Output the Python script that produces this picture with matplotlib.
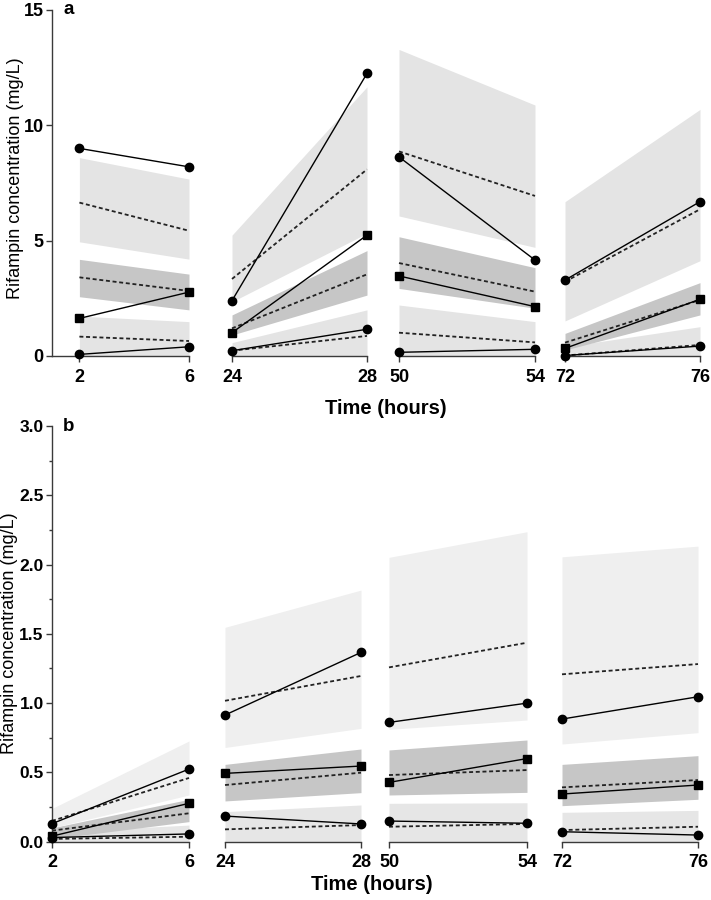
import matplotlib
matplotlib.use("Agg")
import matplotlib.pyplot as plt
from matplotlib.ticker import MultipleLocator
import numpy as np

plt.rcParams['font.family'] = ['Liberation Sans', 'DejaVu Sans']

# sampling windows (hours)
seg_times = [(2, 6), (24, 28), (50, 54), (72, 76)]

# ---- panel a (mg/L) ----
a_obs_high = [[9.00, 8.20], [2.40, 12.25], [8.63, 4.16], [3.29, 6.69]]
a_obs_mid = [[1.63, 2.77], [1.01, 5.24], [3.47, 2.14], [0.33, 2.46]]
a_obs_low = [[0.07, 0.40], [0.23, 1.16], [0.16, 0.29], [0.02, 0.43]]
a_pred_high = [[6.65, 5.43], [3.34, 8.09], [8.87, 6.94], [3.22, 6.36]]
a_pred_mid = [[3.41, 2.82], [1.20, 3.54], [4.03, 2.79], [0.58, 2.43]]
a_pred_low = [[0.84, 0.65], [0.23, 0.87], [1.01, 0.59], [0.02, 0.48]]
a_pi_high_lo = [[4.95, 4.20], [2.35, 5.32], [6.07, 4.71], [1.52, 4.13]]
a_pi_high_hi = [[8.60, 7.67], [5.24, 11.67], [13.29, 10.88], [6.69, 10.69]]
a_pi_mid_lo = [[2.57, 2.00], [0.91, 2.64], [2.93, 2.07], [0.26, 1.78]]
a_pi_mid_hi = [[4.19, 3.55], [1.78, 4.57], [5.17, 3.83], [0.98, 3.18]]
a_pi_low_lo = [[0.0, 0.0], [0.0, 0.0], [0.0, 0.0], [0.0, 0.0]]
a_pi_low_hi = [[1.73, 1.49], [0.58, 2.00], [2.21, 1.49], [0.40, 1.27]]

# ---- panel b (mg/L) ----
b_obs_high = [[0.13, 0.524], [0.914, 1.366], [0.861, 1.00], [0.885, 1.046]]
b_obs_mid = [[0.04, 0.277], [0.493, 0.546], [0.428, 0.60], [0.344, 0.409]]
b_obs_low = [[0.03, 0.056], [0.185, 0.128], [0.149, 0.133], [0.072, 0.048]]
b_pred_high = [[0.15, 0.46], [1.017, 1.196], [1.258, 1.436], [1.208, 1.282]]
b_pred_mid = [[0.08, 0.205], [0.409, 0.498], [0.481, 0.517], [0.392, 0.445]]
b_pred_low = [[0.02, 0.036], [0.089, 0.12], [0.108, 0.128], [0.084, 0.108]]
b_pi_high_lo = [[0.10, 0.337], [0.68, 0.818], [0.811, 0.878], [0.705, 0.787]]
b_pi_high_hi = [[0.24, 0.727], [1.547, 1.816], [2.052, 2.237], [2.056, 2.133]]
b_pi_mid_lo = [[0.02, 0.145], [0.294, 0.354], [0.337, 0.356], [0.26, 0.306]]
b_pi_mid_hi = [[0.10, 0.306], [0.558, 0.669], [0.662, 0.734], [0.558, 0.621]]
b_pi_low_lo = [[0.0, 0.0], [0.0, 0.0], [0.0, 0.0], [0.0, 0.0]]
b_pi_low_hi = [[0.07, 0.12], [0.217, 0.265], [0.277, 0.281], [0.212, 0.226]]

W, H = 711, 900
fig = plt.figure(figsize=(W / 100, H / 100), dpi=100)

SPINE = '#3a3a3a'
DARK = '#c6c6c6'


def px_rect(x0, x1, ytop, ybot):
    return [x0 / W, 1 - ybot / H, (x1 - x0) / W, (ybot - ytop) / H]


def draw_panel(xpix, ytop, ybot, ylim, xlims, d, band_cols, yticks, ytick_labels, minor,
               letter, xlabel_pos, ylabel_pos, ytick_size):
    axes = []
    for i, (x0, x1) in enumerate(xpix):
        ax = fig.add_axes(px_rect(x0, x1, ytop, ybot))
        t = seg_times[i]
        bands = [(d['pi_low_lo'][i], d['pi_low_hi'][i], band_cols[2]),
                 (d['pi_mid_lo'][i], d['pi_mid_hi'][i], band_cols[1]),
                 (d['pi_high_lo'][i], d['pi_high_hi'][i], band_cols[0])]
        for lo, hi, c in bands:
            ax.fill_between(t, lo, hi, color=c, lw=0, zorder=1)
        for key in ['pred_low', 'pred_mid', 'pred_high']:
            ax.plot(t, d[key][i], color='#222222', lw=1.3, ls=(0, (2.2, 1.5)), zorder=2, clip_on=False)
        ax.plot(t, d['obs_high'][i], color='black', lw=1.0, marker='o', ms=6, zorder=4, clip_on=False)
        ax.plot(t, d['obs_mid'][i], color='black', lw=1.0, marker='s', ms=5.5, zorder=4, clip_on=False)
        ax.plot(t, d['obs_low'][i], color='black', lw=1.0, marker='o', ms=6, zorder=4, clip_on=False)

        ax.set_xlim(xlims[i])
        ax.set_ylim(ylim)
        ax.set_xticks(list(t))
        ax.set_xticklabels([str(v) for v in t], fontweight='bold', fontsize=13)
        for s in ['top', 'right']:
            ax.spines[s].set_visible(False)
        ax.spines['bottom'].set_color(SPINE)
        ax.spines['bottom'].set_linewidth(1.0)
        ax.tick_params(axis='x', direction='out', length=4, width=1.0, color=SPINE, pad=5)
        if i == 0:
            ax.spines['left'].set_color(SPINE)
            ax.spines['left'].set_linewidth(1.0)
            ax.set_yticks(yticks)
            ax.set_yticklabels(ytick_labels, fontweight='bold', fontsize=ytick_size)
            if minor:
                ax.yaxis.set_minor_locator(MultipleLocator(minor))
            ax.tick_params(axis='y', which='major', direction='out', length=4, width=1.0, color=SPINE, pad=2)
            ax.tick_params(axis='y', which='minor', direction='out', length=2.5, width=1.0, color=SPINE)
            ax.text((63 - x0) / (x1 - x0), 1.0, letter, transform=ax.transAxes, fontsize=13.5,
                    fontweight='bold', va='center', ha='left')
        else:
            ax.spines['left'].set_visible(False)
            ax.set_yticks([])
        ax.patch.set_alpha(0)
        axes.append(ax)
    fig.text(ylabel_pos[0] / W, 1 - ylabel_pos[1] / H, 'Rifampin concentration (mg/L)', fontsize=13,
             rotation=90, ha='center', va='center')
    fig.text(xlabel_pos[0] / W, 1 - xlabel_pos[1] / H, 'Time (hours)', fontsize=14.5,
             fontweight='bold', ha='center', va='center')
    return axes


data_a = dict(obs_high=a_obs_high, obs_mid=a_obs_mid, obs_low=a_obs_low,
              pred_high=a_pred_high, pred_mid=a_pred_mid, pred_low=a_pred_low,
              pi_high_lo=a_pi_high_lo, pi_high_hi=a_pi_high_hi,
              pi_mid_lo=a_pi_mid_lo, pi_mid_hi=a_pi_mid_hi,
              pi_low_lo=a_pi_low_lo, pi_low_hi=a_pi_low_hi)
data_b = dict(obs_high=b_obs_high, obs_mid=b_obs_mid, obs_low=b_obs_low,
              pred_high=b_pred_high, pred_mid=b_pred_mid, pred_low=b_pred_low,
              pi_high_lo=b_pi_high_lo, pi_high_hi=b_pi_high_hi,
              pi_mid_lo=b_pi_mid_lo, pi_mid_hi=b_pi_mid_hi,
              pi_low_lo=b_pi_low_lo, pi_low_hi=b_pi_low_hi)

draw_panel([(52, 189), (232, 367), (399, 535), (565, 700)], 10, 356, (0, 15),
           [(1, 6), (24, 28), (50, 54), (72, 76)], data_a,
           ['#e4e4e4', DARK, '#e4e4e4'], [0, 5, 10, 15], ['0', '5', '10', '15'], None,
           'a', (386, 409), (16, 178), 13)

draw_panel([(52, 189), (225, 361), (389, 527), (562, 698)], 426, 841.7, (0, 3),
           [(2, 6), (24, 28), (50, 54), (72, 76)], data_b,
           ['#efefef', DARK, '#e6e6e6'], [0, 0.5, 1.0, 1.5, 2.0, 2.5, 3.0],
           ['0.0', '0.5', '1.0', '1.5', '2.0', '2.5', '3.0'], 0.25,
           'b', (372, 885), (10, 633), 12.5)

fig.savefig('out.png', dpi=100)
